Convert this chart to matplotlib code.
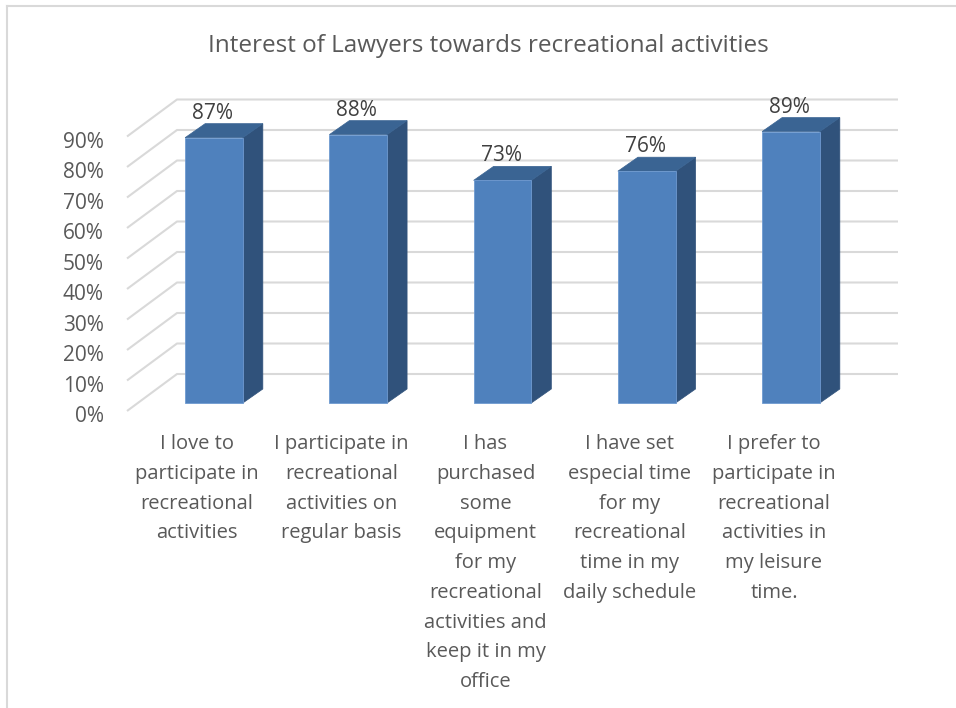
import numpy as np
import matplotlib.pyplot as plt
from matplotlib.patches import Polygon

# data
categories = [
    "I love to\nparticipate in\nrecreational\nactivities",
    "I participate in\nrecreational\nactivities on\nregular basis",
    "I has\npurchased\nsome\nequipment\nfor my\nrecreational\nactivities and\nkeep it in my\noffice",
    "I have set\nespecial time\nfor my\nrecreational\ntime in my\ndaily schedule",
    "I prefer to\nparticipate in\nrecreational\nactivities in\nmy leisure\ntime.",
]
values = [87, 88, 73, 76, 89]
ticks = [0, 10, 20, 30, 40, 50, 60, 70, 80, 90]
title = "Interest of Lawyers towards recreational activities"

font = "Open Sans"
txt = "#595959"

W, H = 956, 708
fig = plt.figure(figsize=(W / 100, H / 100), dpi=100)
ax = fig.add_axes([0, 0, 1, 1])

# pixel -> data mapping: x step 144.25 px per category, y 3.05 px per percent
px_x, x0_px = 144.25, 127
px_y, y0_px = 3.05, 411
ax.set_xlim(-0.5 - x0_px / px_x, -0.5 + (W - x0_px) / px_x)
ax.set_ylim((y0_px - H) / px_y, y0_px / px_y)
ax.axis("off")

# fake 3d depth (wall and bars)
wall_dx, wall_dy = 50 / px_x, 37 / px_y
bar_dx, bar_dy = 20 / px_x, 14 / px_y
bar_off_x, bar_off_y = 0.103, 8 / px_y
bar_w = 0.40
x_left = -0.5
x_right_back = -0.5 + (898 - x0_px) / px_x

grid_c = "#d9d9d9"
for t in ticks:
    ax.plot([x_left, x_left + wall_dx, x_right_back],
            [t, t + wall_dy, t + wall_dy], color=grid_c, lw=1.5,
            solid_capstyle="butt", zorder=1)
    ax.text(x_left - 23 / px_x, t - 1.9, f"{t}%", ha="right", va="center",
            fontsize=15, color=txt, family=font)

x = np.arange(len(values))
xc = x + bar_off_x
front = "#4f81bd"
side = "#30527b"
top = "#3a6493"
ax.bar(xc, values, width=bar_w, bottom=bar_off_y, color=front,
       edgecolor="#6f9ad0", linewidth=0.6, zorder=3)
for xi, v in zip(xc, values):
    l, r = xi - bar_w / 2, xi + bar_w / 2
    b, tp = bar_off_y, bar_off_y + v
    ax.add_patch(Polygon([(r, b), (r + bar_dx, b + bar_dy),
                          (r + bar_dx, tp + bar_dy), (r, tp)],
                         closed=True, facecolor=side, edgecolor=side,
                         lw=0.5, zorder=2))
    ax.add_patch(Polygon([(l, tp), (r, tp), (r + bar_dx, tp + bar_dy),
                          (l + bar_dx, tp + bar_dy)],
                         closed=True, facecolor=top, edgecolor=top,
                         lw=0.5, zorder=2))
    ax.text(xi - 0.01, tp + bar_dy, f"{v}%", ha="center", va="bottom",
            fontsize=15, color="#404040", family=font)

for xi, lab in zip(x, categories):
    ax.text(xi - 0.015, -7.6, lab, ha="center", va="top", fontsize=14.5,
            color=txt, family=font, linespacing=1.65)

fig.text(488 / W, 1 - 46.5 / H, title, ha="center", va="center",
         fontsize=17.5, color=txt, family=font)

# chart frame (top and left only visible)
fig.add_artist(plt.Line2D([7 / W, 7 / W], [0, 1 - 6 / H], color="#d9d9d9",
                          lw=1.5, transform=fig.transFigure))
fig.add_artist(plt.Line2D([7 / W, 1], [1 - 6 / H, 1 - 6 / H], color="#d9d9d9",
                          lw=1.5, transform=fig.transFigure))

fig.savefig("out.png", dpi=100)
